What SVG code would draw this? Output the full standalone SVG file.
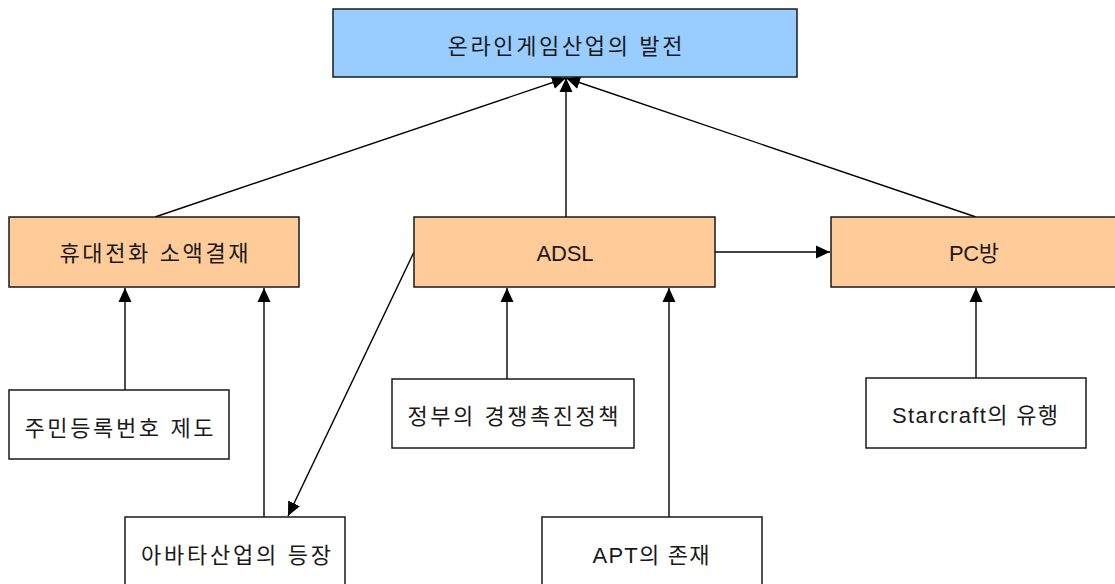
<svg xmlns="http://www.w3.org/2000/svg" width="1115" height="584" viewBox="0 0 1115 584">
<style>
.box{stroke:#1a1a1a;stroke-width:1.5}
.blue{fill:#99CCFF}
.orange{fill:#FFCC99}
.white{fill:#FFFFFF}
text{font-family:"Liberation Sans","Noto Sans CJK KR",sans-serif;font-size:22px;fill:#1a1a1a;text-anchor:middle}
.conn line{stroke:#000;stroke-width:1.4;fill:none}
</style>
<defs>
<marker id="arr" markerUnits="userSpaceOnUse" markerWidth="14" markerHeight="14" viewBox="0 0 14 14" refX="14" refY="7" orient="auto">
<path d="M0,0.5 L14,7 L0,13.5 Z" fill="#000"/>
</marker>
</defs>
<rect width="1115" height="584" fill="#fff"/>
<g class="conn">
<line x1="155" y1="217" x2="566" y2="78" marker-end="url(#arr)"/>
<line x1="566" y1="217" x2="566" y2="78" marker-end="url(#arr)"/>
<line x1="976" y1="217" x2="566" y2="78" marker-end="url(#arr)"/>
<line x1="125" y1="390" x2="125" y2="288" marker-end="url(#arr)"/>
<line x1="264" y1="517" x2="264" y2="288" marker-end="url(#arr)"/>
<line x1="414" y1="252" x2="288" y2="516" marker-end="url(#arr)"/>
<line x1="507" y1="379" x2="507" y2="288" marker-end="url(#arr)"/>
<line x1="669" y1="517" x2="669" y2="288" marker-end="url(#arr)"/>
<line x1="715" y1="252" x2="830" y2="252" marker-end="url(#arr)"/>
<line x1="976" y1="378" x2="976" y2="288" marker-end="url(#arr)"/>
</g>
<g id="n-top">
<rect class="box blue" x="333" y="9" width="464" height="68"/>
<text x="565" y="54" textLength="235" lengthAdjust="spacing">온라인게임산업의 발전</text>
</g>
<g id="n-mobile">
<rect class="box orange" x="9" y="217" width="290" height="70"/>
<text x="154" y="261" textLength="189" lengthAdjust="spacing">휴대전화 소액결재</text>
</g>
<g id="n-adsl">
<rect class="box orange" x="414" y="217" width="301" height="70"/>
<text x="565" y="261" textLength="57" lengthAdjust="spacing">ADSL</text>
</g>
<g id="n-pcbang">
<rect class="box orange" x="831" y="217" width="290" height="70"/>
<text x="974" y="261" textLength="50" lengthAdjust="spacing">PC방</text>
</g>
<g id="n-jumin">
<rect class="box white" x="9" y="390" width="220" height="69"/>
<text x="119" y="436" textLength="189" lengthAdjust="spacing">주민등록번호 제도</text>
</g>
<g id="n-gov">
<rect class="box white" x="392" y="379" width="242" height="69"/>
<text x="513" y="424" textLength="211" lengthAdjust="spacing">정부의 경쟁촉진정책</text>
</g>
<g id="n-starcraft">
<rect class="box white" x="866" y="378" width="220" height="70"/>
<text x="975" y="423" textLength="166" lengthAdjust="spacing">Starcraft의 유행</text>
</g>
<g id="n-avatar">
<rect class="box white" x="125" y="517" width="220" height="70"/>
<text x="236" y="563" textLength="190" lengthAdjust="spacing">아바타산업의 등장</text>
</g>
<g id="n-apt">
<rect class="box white" x="542" y="517" width="220" height="70"/>
<text x="651" y="563" textLength="117" lengthAdjust="spacing">APT의 존재</text>
</g>
</svg>
